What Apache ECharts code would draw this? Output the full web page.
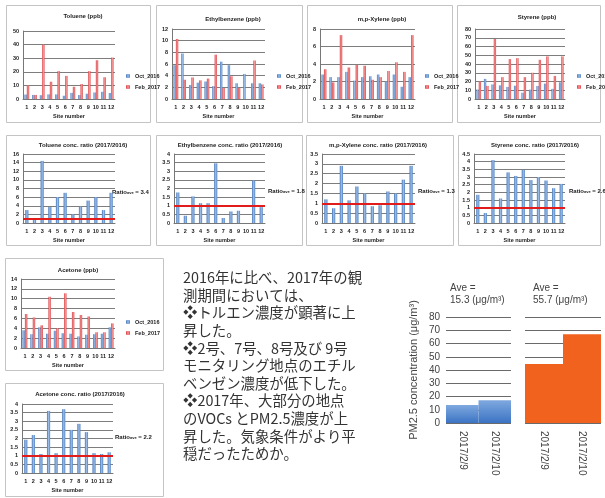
<!DOCTYPE html>
<html><head><meta charset="utf-8">
<script src="https://cdn.jsdelivr.net/npm/echarts@6/dist/echarts.min.js"></script>
<style>
html,body{margin:0;padding:0;background:#fff}
#c{width:605px;height:498px}
</style></head><body>
<div id="c"></div>
<script>
const sites = ['1','2','3','4','5','6','7','8','9','10','11','12'];
const seriesNames = ['Oct_2016','Feb_2017'];

const tolueneOct = [3.3,3.0,2.8,3.4,3.4,2.4,4.5,2.9,3.9,4.8,5.3,4.4];
const tolueneFeb = [10,3,40,12.7,20.5,17,9,11,20.5,28.5,16,30.5];
const tolueneRatio = [3.0,1.0,14.4,3.7,6.0,7.0,2.0,3.8,5.2,6.0,3.0,7.0];

const ethylOct = [5.8,7.8,2.4,2.8,3.0,2.2,6.4,5.8,2.7,4.3,2.7,2.7];
const ethylFeb = [10.3,3.3,3.7,3.2,3.5,7.6,1.9,3.9,1.9,null,6.6,2.5];
const ethylRatio = [1.77,0.42,1.54,1.15,1.15,3.46,0.29,0.67,0.71,null,2.46,0.92];

const xyleneOct = [2.8,2.5,2.5,3.1,2.1,2.5,2.6,2.8,2.0,2.8,1.4,2.5];
const xyleneFeb = [3.4,1.9,7.3,3.6,3.9,3.8,2.2,2.5,3.2,4.2,3.1,7.3];
const xyleneRatio = [1.2,0.75,2.9,1.15,1.85,1.5,0.85,0.9,1.6,1.5,2.2,2.9];

const styreneOct = [10.9,23,16.7,15.6,13.8,15.2,7.2,10.7,14.9,17.6,11.6,19.1];
const styreneFeb = [20,15,68.6,25,45.6,46.7,25,30,44.8,48.7,26.4,48.7];
const styreneRatio = [1.84,0.65,4.1,1.6,3.3,3.07,3.46,2.8,3.0,2.77,2.27,2.55];

const acetoneOct = [3.6,2.8,4.2,2.9,3.5,3.0,2.9,2.35,2.7,2.8,2.9,4.2];
const acetoneFeb = [6.9,6.2,4.6,10.4,4.0,11.1,7.3,6.7,6.4,3.2,3.2,5.0];
const acetoneRatio = [1.93,2.2,1.1,3.6,1.15,3.7,2.5,2.85,2.37,1.15,1.1,1.2];

const pmDates = ['2017/2/9','2017/2/10'];
const pmBlue = [13.5,17.1];
const pmOrange = [44.5,67];

const noteText = '2016年に比べ、2017年の観\n測期間においては、\n❖トルエン濃度が顕著に上\n昇した。\n❖2号、7号、8号及び 9号\nモニタリング地点のエチル\nベンゼン濃度が低下した。\n❖2017年、大部分の地点\nのVOCs とPM2.5濃度が上\n昇した。気象条件がより平\n穏だったためか。';

const FONT = '"Liberation Sans", Arial, sans-serif';
const blueGrad = new echarts.graphic.LinearGradient(0,0,1,0,[{offset:0,color:'#4677b8'},{offset:0.5,color:'#9bbce6'},{offset:1,color:'#5083c4'}]);
const redGrad = new echarts.graphic.LinearGradient(0,0,1,0,[{offset:0,color:'#d8393d'},{offset:0.5,color:'#f59a9a'},{offset:1,color:'#de4448'}]);

const option = {animation:false, backgroundColor:'#fff', textStyle:{fontFamily:FONT},
  grid:[], xAxis:[], yAxis:[], series:[], legend:[], graphic:[]};

function panel(x,y,w,h){
  option.graphic.push({type:'rect', shape:{x:x+0.5,y:y+0.5,width:w,height:h}, style:{fill:'none',stroke:'#c4c4c4',lineWidth:1}, z:-5});
}
function label(text,x,y,size,bold,align,color){
  option.graphic.push({type:'text', x:x, y:y, style:{text:text, font:(bold?'bold ':'')+size+'px '+FONT, fill:color||'#222', textAlign:align||'center', textVerticalAlign:'middle'}});
}
function axes(gi, ymax, yint){
  option.xAxis.push({type:'category', gridIndex:gi, data:sites, axisTick:{show:false},
    axisLine:{lineStyle:{color:'#777'}}, axisLabel:{fontSize:5.5, color:'#222', margin:5, interval:0, fontWeight:'bold'},
    name:'Site number', nameLocation:'middle', nameGap:14, nameTextStyle:{fontSize:5.5, fontWeight:'bold', color:'#222'}});
  option.yAxis.push({type:'value', gridIndex:gi, min:0, max:ymax, interval:yint,
    axisLine:{show:true, lineStyle:{color:'#777'}}, axisTick:{show:false},
    splitLine:{lineStyle:{color:'#7d7d7d'}}, axisLabel:{fontSize:5.5, color:'#222', margin:4, fontWeight:'bold'}});
}
function barChart(c){
  const gi = option.grid.length;
  option.grid.push({left:c.plot[0], top:c.plot[1], width:c.plot[2], height:c.plot[3]});
  axes(gi, c.ymax, c.yint);
  option.series.push({type:'bar', name:seriesNames[0], xAxisIndex:gi, yAxisIndex:gi, data:c.oct, itemStyle:{color:blueGrad}, barGap:'0%', barCategoryGap:'38%'});
  option.series.push({type:'bar', name:seriesNames[1], xAxisIndex:gi, yAxisIndex:gi, data:c.feb, itemStyle:{color:redGrad}, barGap:'0%', barCategoryGap:'38%'});
  option.legend.push({data:seriesNames, orient:'vertical', left:c.leg[0], top:c.leg[1], itemWidth:4, itemHeight:4, itemGap:5, selectedMode:false,
    textStyle:{fontSize:5.5, color:'#222', fontWeight:'bold'}});
  label(c.title, c.tpos[0], c.tpos[1], 6, true);
}
function ratioChart(c){
  const gi = option.grid.length;
  option.grid.push({left:c.plot[0], top:c.plot[1], width:c.plot[2], height:c.plot[3]});
  axes(gi, c.ymax, c.yint);
  option.series.push({type:'bar', name:'ratio'+gi, xAxisIndex:gi, yAxisIndex:gi, data:c.ratio, itemStyle:{color:blueGrad}, barWidth:'42%',
    markLine:{silent:true, symbol:'none', label:{show:false}, lineStyle:{color:'#e21b1b', width:2, type:'solid'}, data:[{yAxis:1}]}});
  label(c.title, c.tpos[0], c.tpos[1], 6, true);
  option.graphic.push({type:'text', x:c.apos[0], y:c.apos[1], style:{rich:{b:{fontSize:6,fontWeight:'bold',fill:'#222',fontFamily:FONT}, s:{fontSize:4,fontWeight:'bold',fill:'#222',fontFamily:FONT, verticalAlign:'bottom'}},
    text:'{b|Ratio}{s|ave}{b| = '+c.ave+'}', textVerticalAlign:'middle'}});
}

// Row 1
panel(6,5,144,117); panel(156,5,146,117); panel(307,5,145,117); panel(457,5,143,117);
barChart({plot:[23,31,92,68], ymax:50, yint:10, oct:tolueneOct, feb:tolueneFeb, title:'Toluene (ppb)', tpos:[83,16], leg:[121,68]});
barChart({plot:[172,29,93,70], ymax:12, yint:2, oct:ethylOct, feb:ethylFeb, title:'Ethylbenzene (ppb)', tpos:[233,19], leg:[272,68]});
barChart({plot:[320,29,95,70], ymax:8, yint:2, oct:xyleneOct, feb:xyleneFeb, title:'m,p-Xylene (ppb)', tpos:[382,19], leg:[420,68]});
barChart({plot:[475,29,90,70], ymax:80, yint:10, oct:styreneOct, feb:styreneFeb, title:'Styrene (ppb)', tpos:[537,17], leg:[572,68]});

// Row 2
panel(6,135,144,110); panel(156,135,146,110); panel(306,135,147,110); panel(458,135,142,110);
ratioChart({plot:[23,154,92,69], ymax:16, yint:2, ratio:tolueneRatio, title:'Toluene conc. ratio (2017/2016)', tpos:[83,145], apos:[112,192], ave:'3.4'});
ratioChart({plot:[174,154,91,69], ymax:4, yint:0.5, ratio:ethylRatio, title:'Ethylbenzene conc. ratio (2017/2016)', tpos:[230,145], apos:[268,191], ave:'1.8'});
ratioChart({plot:[322,154,93,69], ymax:3.5, yint:0.5, ratio:xyleneRatio, title:'m,p-Xylene conc. ratio (2017/2016)', tpos:[378,145], apos:[418,191], ave:'1.3'});
ratioChart({plot:[474,154,91,69], ymax:4.5, yint:0.5, ratio:styreneRatio, title:'Styrene conc. ratio (2017/2016)', tpos:[535,145], apos:[569,191], ave:'2.6'});

// Row 3/4 left
panel(5,258,158,112); panel(5,383,158,113);
barChart({plot:[21,279,94,69], ymax:14, yint:2, oct:acetoneOct, feb:acetoneFeb, title:'Acetone (ppb)', tpos:[78,270], leg:[121,314]});
ratioChart({plot:[22,404,91,69], ymax:4, yint:0.5, ratio:acetoneRatio, title:'Acetone conc. ratio (2017/2016)', tpos:[80,394], apos:[115,437], ave:'2.2'});

// PM2.5 chart
(function(){
  const giA = option.grid.length;
  option.grid.push({left:446, top:317, width:65, height:106});
  option.grid.push({left:525, top:317, width:76, height:106});
  [0,1].forEach(k=>{
    option.xAxis.push({type:'category', gridIndex:giA+k, data:pmDates, axisTick:{show:false}, axisLine:{show:false},
      axisLabel:{rotate:-90, fontSize:10, color:'#444', margin:8, interval:0}});
    option.yAxis.push({type:'value', gridIndex:giA+k, min:0, max:80, interval:10, axisLine:{show:false}, axisTick:{show:false},
      splitLine:{lineStyle:{color:'#6a6a6a'}}, axisLabel:{show:k===0, fontSize:10, color:'#444', margin:6},
      name:k===0?'PM2.5 concentration (μg/m³)':'', nameLocation:'middle', nameRotate:90, nameGap:27,
      nameTextStyle:{fontSize:11, color:'#444'}});
  });
  option.series.push({type:'bar', name:'pm1', xAxisIndex:giA, yAxisIndex:giA, data:pmBlue, barCategoryGap:'0%',
    itemStyle:{color:new echarts.graphic.LinearGradient(0,0,0,1,[{offset:0,color:'#7fa8df'},{offset:1,color:'#3b74c4'}])}});
  option.series.push({type:'bar', name:'pm2', xAxisIndex:giA+1, yAxisIndex:giA+1, data:pmOrange, barCategoryGap:'0%',
    itemStyle:{color:'#f2621f'}});
  label('Ave =', 450, 288, 10, false, 'left', '#444');
  label('15.3 (μg/m³)', 450, 300, 10, false, 'left', '#444');
  label('Ave =', 533, 288, 10, false, 'left', '#444');
  label('55.7 (μg/m³)', 533, 300, 10, false, 'left', '#444');
})();

option.graphic.push({type:'text', x:183, y:269, style:{text:noteText, font:'14.4px "Noto Sans CJK JP", sans-serif', fill:'#333', lineHeight:17.6, textVerticalAlign:'top'}});

const chart = echarts.init(document.getElementById('c'), null, {renderer:'canvas'});
chart.setOption(option);
</script>
</body></html>
